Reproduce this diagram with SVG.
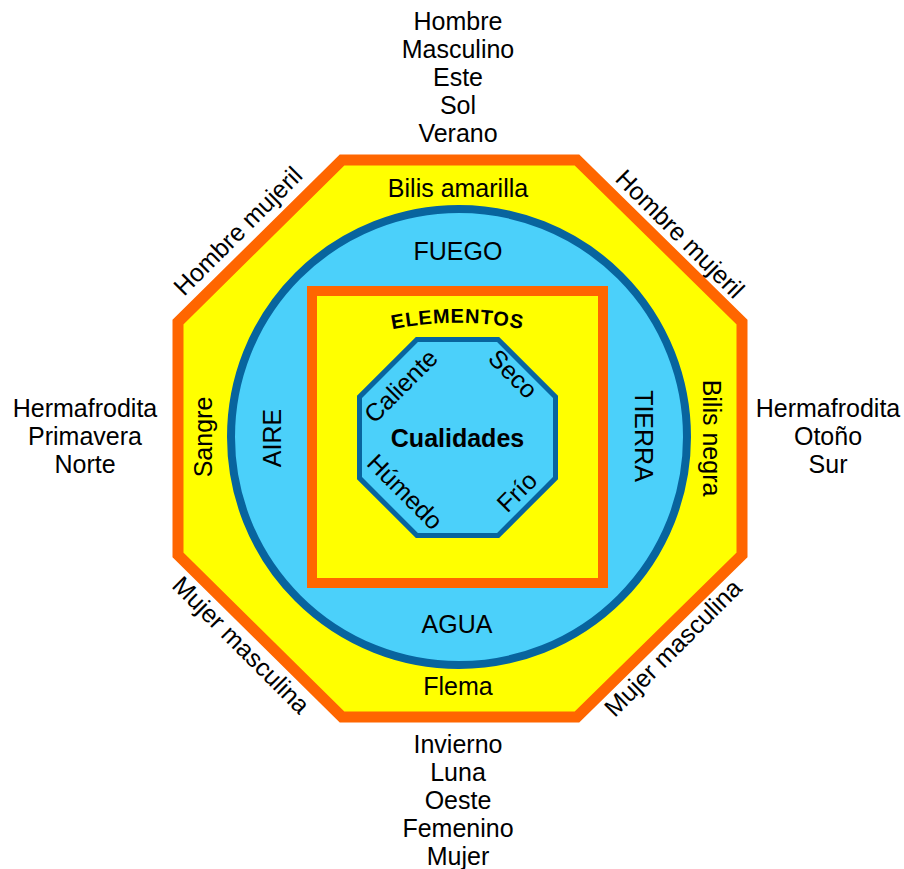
<svg xmlns="http://www.w3.org/2000/svg" width="904" height="869" viewBox="0 0 904 869">
<style>
text{font-family:"Liberation Sans",Arial,sans-serif;fill:#000}
.t{font-size:25px;text-anchor:middle}
.q{font-size:25px;text-anchor:middle}
.b{font-weight:bold}
.orange{fill:#FFFF00;stroke:#FF6600;stroke-linejoin:miter}
.blue{fill:#4BD0FA;stroke:#08649E}
</style>
<defs>
<path id="arc" d="M 380,332 A 330,330 0 0 1 535,332"/>
</defs>
<rect width="904" height="869" fill="#fff"/>
<g id="outer-octagon">
<polygon class="orange" stroke-width="11" points="342,160 577,160 742,322 742,555 577,717 342,717 178,555 178,322"/>
<text class="t" x="458" y="197">Bilis amarilla</text>
<text class="t" x="458" y="695">Flema</text>
<text class="t" transform="translate(212,437) rotate(-90)">Sangre</text>
<text class="t" transform="translate(703,438) rotate(90)">Bilis negra</text>
</g>
<g id="circle">
<circle class="blue" cx="459" cy="437" r="228" stroke-width="8"/>
<text class="t" x="458" y="260">FUEGO</text>
<text class="t" x="457" y="633">AGUA</text>
<text class="t" transform="translate(281,438) rotate(-90)">AIRE</text>
<text class="t" transform="translate(635,436) rotate(90)">TIERRA</text>
</g>
<g id="square">
<rect class="orange" x="312" y="291" width="291" height="292" stroke-width="10"/>
<text class="b" font-size="20" letter-spacing="0.8" text-anchor="middle"><textPath href="#arc" startOffset="50%">ELEMENTOS</textPath></text>
</g>
<g id="inner-octagon">
<polygon class="blue" stroke-width="5" points="416.9,339.5 498.1,339.5 555.5,396.9 555.5,478.1 498.1,535.5 416.9,535.5 359.5,478.1 359.5,396.9"/>
<text class="q b" x="457.5" y="447">Cualidades</text>
<text class="q" transform="translate(407,392) rotate(-45)">Caliente</text>
<text class="q" transform="translate(507,380) rotate(45)">Seco</text>
<text class="q" transform="translate(399,498) rotate(45)">Húmedo</text>
<text class="q" transform="translate(523,498) rotate(-45)">Frío</text>
</g>
<g id="top-labels">
<text class="t" x="458" y="30">Hombre</text>
<text class="t" x="458" y="58">Masculino</text>
<text class="t" x="458" y="86">Este</text>
<text class="t" x="458" y="114">Sol</text>
<text class="t" x="458" y="142">Verano</text>
</g>
<g id="bottom-labels">
<text class="t" x="458" y="753">Invierno</text>
<text class="t" x="458" y="781">Luna</text>
<text class="t" x="458" y="809">Oeste</text>
<text class="t" x="458" y="837">Femenino</text>
<text class="t" x="458" y="865">Mujer</text>
</g>
<g id="left-labels">
<text class="t" x="85" y="417">Hermafrodita</text>
<text class="t" x="85" y="445">Primavera</text>
<text class="t" x="85" y="473">Norte</text>
</g>
<g id="right-labels">
<text class="t" x="828" y="417">Hermafrodita</text>
<text class="t" x="828" y="445">Otoño</text>
<text class="t" x="828" y="473">Sur</text>
</g>
<g id="diagonal-labels">
<text class="t" transform="translate(244,237) rotate(-45)">Hombre mujeril</text>
<text class="t" transform="translate(674,240) rotate(45)">Hombre mujeril</text>
<text class="t" transform="translate(235,651) rotate(45)">Mujer masculina</text>
<text class="t" transform="translate(679,654) rotate(-45)">Mujer masculina</text>
</g>
<g id="connectors"></g>
</svg>
